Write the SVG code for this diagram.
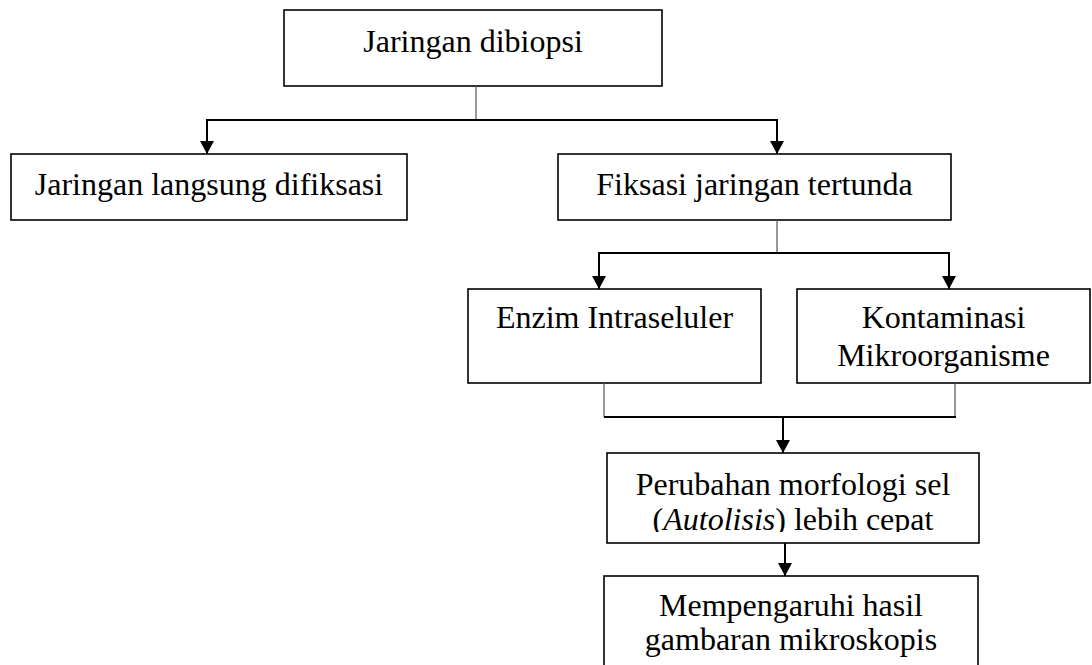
<svg xmlns="http://www.w3.org/2000/svg" width="1092" height="665" viewBox="0 0 1092 665">
<style>
.box{fill:#fff;stroke:#000;stroke-width:1.6}
.t{font-family:"Liberation Serif","Times New Roman",serif;font-size:32px;fill:#000;text-anchor:middle}
.stub{stroke:#555;stroke-width:1.2;fill:none}
.ln{stroke:#000;stroke-width:2;fill:none}
.ar{stroke:#000;stroke-width:2;fill:none;marker-end:url(#ah)}
</style>
<defs>
<marker id="ah" markerUnits="userSpaceOnUse" markerWidth="14" markerHeight="14" refX="13" refY="7" orient="auto">
<path d="M0,0 L13,7 L0,14 Z" fill="#000"/>
</marker>
<clipPath id="c1"><rect x="607" y="453" width="372" height="79"/></clipPath>
</defs>
<rect width="1092" height="665" fill="#fff"/>
<g id="n1"><rect class="box" x="284" y="10" width="378" height="76"/><text class="t" x="473" y="52">Jaringan dibiopsi</text></g>
<g id="n2"><rect class="box" x="11" y="154" width="396" height="66"/><text class="t" x="209" y="195">Jaringan langsung difiksasi</text></g>
<g id="n3"><rect class="box" x="558" y="154" width="393" height="66"/><text class="t" x="754.5" y="195">Fiksasi jaringan tertunda</text></g>
<g id="n4"><rect class="box" x="468" y="289" width="293" height="94"/><text class="t" x="614.5" y="328">Enzim Intraseluler</text></g>
<g id="n5"><rect class="box" x="797" y="289" width="293" height="94"/><text class="t" x="943.5" y="328">Kontaminasi</text><text class="t" x="943.5" y="366">Mikroorganisme</text></g>
<g id="n6"><rect class="box" x="607" y="453" width="372" height="90"/><g clip-path="url(#c1)"><text class="t" x="793" y="495">Perubahan morfologi sel</text><text class="t" x="793" y="530">(<tspan font-style="italic">Autolisis</tspan>) lebih cepat</text></g></g>
<g id="n7"><rect class="box" x="604" y="576" width="374" height="120"/><text class="t" x="791" y="616">Mempengaruhi hasil</text><text class="t" x="791" y="650">gambaran mikroskopis</text></g>
<g id="connectors">
<line class="stub" x1="476" y1="86" x2="476" y2="120"/>
<line class="ln" x1="206" y1="120" x2="778" y2="120"/>
<line class="ar" x1="207" y1="120" x2="207" y2="154"/>
<line class="ar" x1="777" y1="120" x2="777" y2="154"/>
<line class="stub" x1="777" y1="220" x2="777" y2="253"/>
<line class="ln" x1="598" y1="253" x2="950" y2="253"/>
<line class="ar" x1="599" y1="253" x2="599" y2="289"/>
<line class="ar" x1="949" y1="253" x2="949" y2="289"/>
<line class="stub" x1="604" y1="383" x2="604" y2="417"/>
<line class="stub" x1="955" y1="383" x2="955" y2="417"/>
<line class="ln" x1="604" y1="417" x2="956" y2="417"/>
<line class="ar" x1="783" y1="417" x2="783" y2="453"/>
<line class="ar" x1="785" y1="543" x2="785" y2="576"/>
</g>
</svg>
